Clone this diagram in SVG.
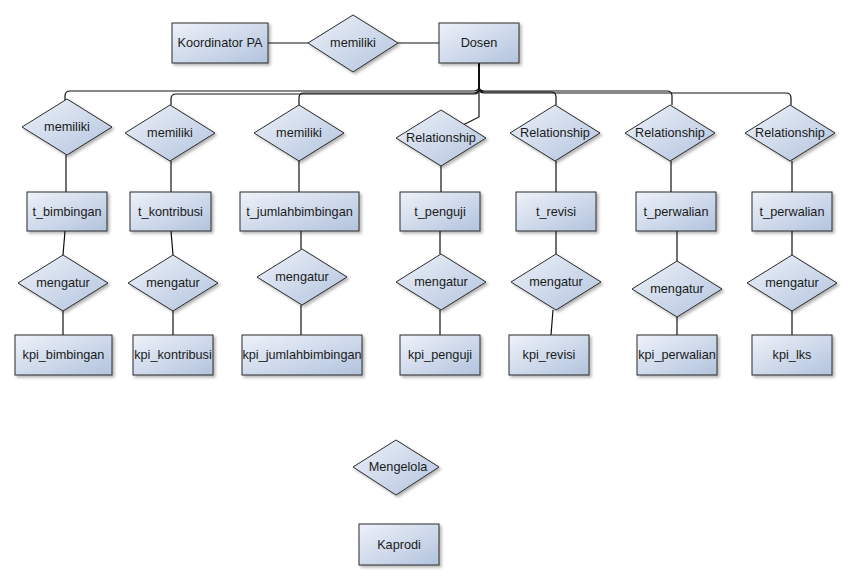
<svg xmlns="http://www.w3.org/2000/svg" xmlns:xlink="http://www.w3.org/1999/xlink" width="852" height="579" viewBox="0 0 852 579">
  <style>
    .ent, .rel { fill: url(#shade); stroke: #2b2b2b; stroke-width: 1; filter: url(#shadow); }
    .lbl { font-family: "Liberation Sans", Arial, sans-serif; font-size: 12.7px; fill: #1a1a1a; text-anchor: middle; }
    .conn path, .conn line { fill: none; stroke: #111; stroke-width: 1.2; }
  </style>
  <defs>
    <linearGradient id="shade" x1="0" y1="0" x2="1" y2="1">
      <stop offset="0" stop-color="#eef2f9"/>
      <stop offset="1" stop-color="#b2c3de"/>
    </linearGradient>
    <filter id="shadow" x="-20%" y="-20%" width="150%" height="160%">
      <feDropShadow dx="2" dy="2" stdDeviation="1.5" flood-color="#000" flood-opacity="0.3"/>
    </filter>
    <polygon id="dia" points="-45,0 0,-28 45,0 0,28"/>
  </defs>
  <rect width="852" height="579" fill="#fff"/>

  <!-- connectors -->
  <g id="connectors" class="conn">
    <line x1="268" y1="43" x2="308" y2="43"/>
    <line x1="398" y1="43" x2="439" y2="43"/>
    <!-- Dosen fan-out -->
    <path d="M479,63 V86 Q479,91 474,91 H70 Q65,91 65,96 V100"/>
    <path d="M479,63 V89 Q479,94 474,94 H176 Q171,94 171,99 V105"/>
    <path d="M479,63 V88 Q479,93 474,93 H304 Q299,93 299,98 V105"/>
    <path d="M479,63 V117 L463,125"/>
    <path d="M479,63 V87 Q479,92 484,92 H551 Q556,92 556,97 V105"/>
    <path d="M479,63 V86 Q479,91 484,91 H667 Q672,91 672,96 V105"/>
    <path d="M479,63 V88 Q479,93 484,93 H786 Q791,93 791,98 V105"/>
    <!-- relationship to table -->
    <line x1="66" y1="155" x2="66" y2="192"/>
    <line x1="171" y1="161" x2="171" y2="192"/>
    <line x1="299" y1="161" x2="299" y2="192"/>
    <line x1="441" y1="166" x2="441" y2="192"/>
    <line x1="556" y1="161" x2="556" y2="192"/>
    <line x1="671" y1="161" x2="671" y2="192"/>
    <line x1="792" y1="161" x2="792" y2="192"/>
    <!-- table to mengatur -->
    <line x1="65" y1="231" x2="63" y2="255"/>
    <line x1="171" y1="231" x2="173" y2="255"/>
    <line x1="301" y1="231" x2="301" y2="249"/>
    <line x1="440" y1="231" x2="440" y2="254"/>
    <line x1="556" y1="231" x2="556" y2="254"/>
    <line x1="677" y1="231" x2="677" y2="261"/>
    <line x1="792" y1="231" x2="792" y2="255"/>
    <!-- mengatur to kpi -->
    <line x1="63" y1="311" x2="63" y2="335"/>
    <line x1="173" y1="311" x2="173" y2="335"/>
    <line x1="301" y1="305" x2="301" y2="335"/>
    <line x1="440" y1="310" x2="440" y2="335"/>
    <line x1="553" y1="310" x2="551" y2="335"/>
    <line x1="677" y1="317" x2="677" y2="335"/>
    <line x1="792" y1="311" x2="792" y2="335"/>
  </g>

  <!-- top row -->
  <g id="koordinator-pa"><rect class="ent" x="172" y="23" width="96" height="40"/><text class="lbl" x="220" y="47">Koordinator PA</text></g>
  <g id="rel-memiliki-top"><polygon class="rel" points="308,43 353,15 398,43 353,72"/><text class="lbl" x="353" y="47">memiliki</text></g>
  <g id="dosen"><rect class="ent" x="439" y="23" width="80" height="40"/><text class="lbl" x="479" y="47">Dosen</text></g>

  <!-- relationship row -->
  <g id="rel-memiliki-1" transform="translate(67,127)"><use class="rel" xlink:href="#dia"/><text class="lbl" y="4">memiliki</text></g>
  <g id="rel-memiliki-2" transform="translate(170,133)"><use class="rel" xlink:href="#dia"/><text class="lbl" y="4">memiliki</text></g>
  <g id="rel-memiliki-3" transform="translate(299,133)"><use class="rel" xlink:href="#dia"/><text class="lbl" y="4">memiliki</text></g>
  <g id="rel-relationship-1" transform="translate(441,138)"><use class="rel" xlink:href="#dia"/><text class="lbl" y="4">Relationship</text></g>
  <g id="rel-relationship-2" transform="translate(555,133)"><use class="rel" xlink:href="#dia"/><text class="lbl" y="4">Relationship</text></g>
  <g id="rel-relationship-3" transform="translate(670,133)"><use class="rel" xlink:href="#dia"/><text class="lbl" y="4">Relationship</text></g>
  <g id="rel-relationship-4" transform="translate(790,133)"><use class="rel" xlink:href="#dia"/><text class="lbl" y="4">Relationship</text></g>

  <!-- table row -->
  <g id="t-bimbingan"><rect class="ent" x="27" y="192" width="80" height="39"/><text class="lbl" x="67" y="216">t_bimbingan</text></g>
  <g id="t-kontribusi"><rect class="ent" x="130" y="192" width="81" height="39"/><text class="lbl" x="170.5" y="216">t_kontribusi</text></g>
  <g id="t-jumlahbimbingan"><rect class="ent" x="240" y="192" width="119" height="39"/><text class="lbl" x="299.5" y="216">t_jumlahbimbingan</text></g>
  <g id="t-penguji"><rect class="ent" x="400" y="192" width="80" height="39"/><text class="lbl" x="440" y="216">t_penguji</text></g>
  <g id="t-revisi"><rect class="ent" x="516" y="192" width="80" height="39"/><text class="lbl" x="556" y="216">t_revisi</text></g>
  <g id="t-perwalian-1"><rect class="ent" x="636" y="192" width="80" height="39"/><text class="lbl" x="676" y="216">t_perwalian</text></g>
  <g id="t-perwalian-2"><rect class="ent" x="752" y="192" width="80" height="39"/><text class="lbl" x="792" y="216">t_perwalian</text></g>

  <!-- mengatur row -->
  <g id="rel-mengatur-1" transform="translate(63,283)"><use class="rel" xlink:href="#dia"/><text class="lbl" y="4">mengatur</text></g>
  <g id="rel-mengatur-2" transform="translate(173,283)"><use class="rel" xlink:href="#dia"/><text class="lbl" y="4">mengatur</text></g>
  <g id="rel-mengatur-3" transform="translate(302,277)"><use class="rel" xlink:href="#dia"/><text class="lbl" y="4">mengatur</text></g>
  <g id="rel-mengatur-4" transform="translate(441,282)"><use class="rel" xlink:href="#dia"/><text class="lbl" y="4">mengatur</text></g>
  <g id="rel-mengatur-5" transform="translate(556,282)"><use class="rel" xlink:href="#dia"/><text class="lbl" y="4">mengatur</text></g>
  <g id="rel-mengatur-6" transform="translate(677,289)"><use class="rel" xlink:href="#dia"/><text class="lbl" y="4">mengatur</text></g>
  <g id="rel-mengatur-7" transform="translate(792,283)"><use class="rel" xlink:href="#dia"/><text class="lbl" y="4">mengatur</text></g>

  <!-- kpi row -->
  <g id="kpi-bimbingan"><rect class="ent" x="15" y="335" width="97" height="40"/><text class="lbl" x="63.5" y="359">kpi_bimbingan</text></g>
  <g id="kpi-kontribusi"><rect class="ent" x="133" y="335" width="80" height="40"/><text class="lbl" x="173" y="359">kpi_kontribusi</text></g>
  <g id="kpi-jumlahbimbingan"><rect class="ent" x="242" y="335" width="120" height="40"/><text class="lbl" x="302" y="359">kpi_jumlahbimbingan</text></g>
  <g id="kpi-penguji"><rect class="ent" x="400" y="335" width="80" height="40"/><text class="lbl" x="440" y="359">kpi_penguji</text></g>
  <g id="kpi-revisi"><rect class="ent" x="509" y="335" width="80" height="40"/><text class="lbl" x="549" y="359">kpi_revisi</text></g>
  <g id="kpi-perwalian"><rect class="ent" x="637" y="335" width="80" height="40"/><text class="lbl" x="677" y="359">kpi_perwalian</text></g>
  <g id="kpi-lks"><rect class="ent" x="752" y="335" width="80" height="40"/><text class="lbl" x="792" y="359">kpi_lks</text></g>

  <!-- bottom -->
  <g id="rel-mengelola"><polygon class="rel" points="353,467 396,440 439,467 396,495"/><text class="lbl" x="398" y="471">Mengelola</text></g>
  <g id="kaprodi"><rect class="ent" x="359" y="524" width="80" height="41"/><text class="lbl" x="399" y="549">Kaprodi</text></g>
</svg>
